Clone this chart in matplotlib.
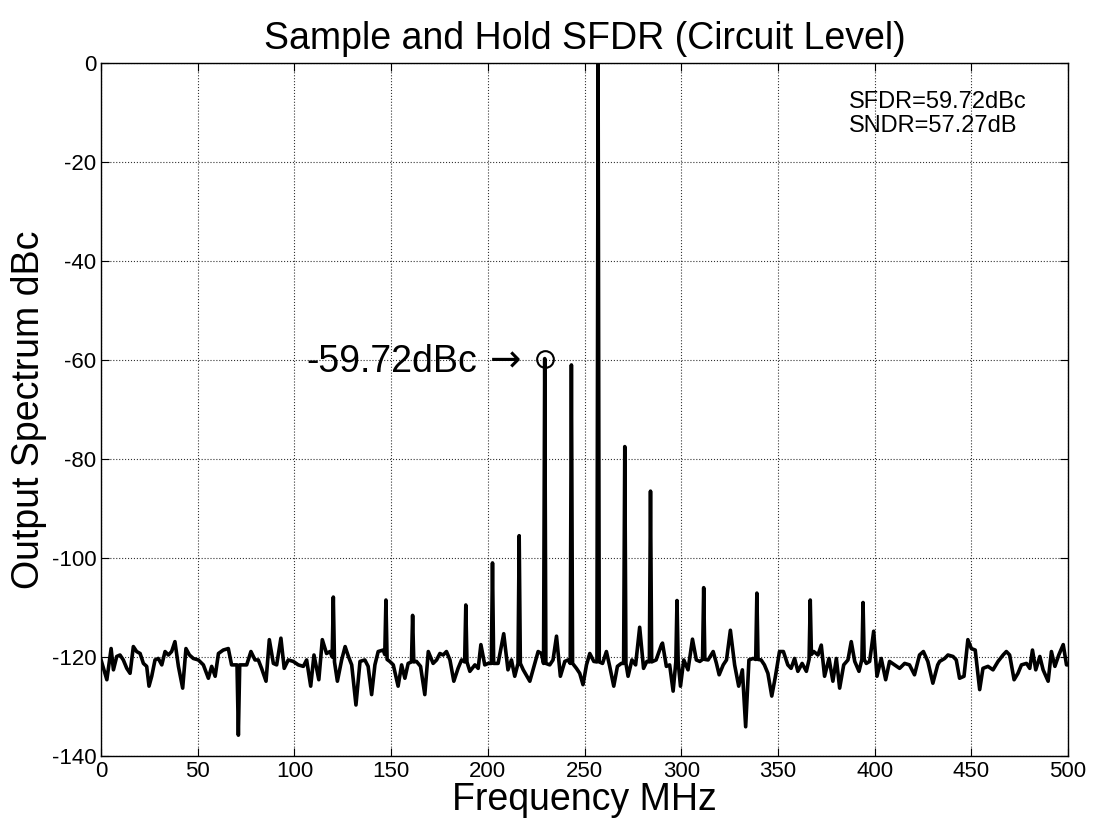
import matplotlib
matplotlib.use("Agg")
import matplotlib.pyplot as plt
import numpy as np

plt.rcParams['font.family'] = ['Liberation Sans', 'DejaVu Sans']
plt.rcParams['axes.unicode_minus'] = False

# spectrum trace (MHz, dBc)
freq_mhz = [
    0.0, 3.0, 5.2, 6.4, 8.1, 9.8, 11.5, 13.3, 15.0, 16.7, 18.4, 20.2, 21.9, 23.6,
    24.8, 26.2, 27.9, 29.6, 31.4, 33.1, 34.8, 36.5, 38.2, 40.0, 42.2, 43.9, 45.7,
    47.7, 50.3, 52.9, 55.5, 57.2, 59.0, 60.7, 63.2, 65.8, 67.5, 69.3, 70.3, 71.0,
    71.7, 72.7, 75.3, 77.5, 79.6, 81.3, 83.0, 85.3, 87.0, 89.1, 90.8, 93.0, 94.7,
    96.8, 99.4, 102.0, 104.6, 106.3, 108.4, 110.1, 112.6, 114.4, 116.6, 118.4,
    119.5, 120.1, 120.7, 122.2, 124.4, 126.2, 127.9, 129.6, 131.8, 133.9, 136.4,
    138.1, 139.9, 141.6, 143.3, 145.9, 146.7, 147.3, 147.9, 149.3, 151.1, 153.6,
    155.4, 157.1, 158.8, 160.5, 161.1, 161.7, 163.1, 165.2, 167.4, 169.2, 171.7,
    173.5, 175.2, 176.9, 178.6, 180.4, 182.4, 184.6, 186.4, 188.0, 188.6, 189.2,
    190.7, 193.3, 195.0, 196.4, 198.4, 200.2, 201.8, 202.4, 203.0, 205.3, 208.2,
    210.4, 212.2, 213.9, 215.6, 216.2, 216.8, 218.3, 221.7, 224.3, 226.0, 227.7,
    228.8, 229.4, 230.0, 232.0, 233.7, 235.5, 237.5, 239.8, 241.5, 242.6, 243.2,
    243.8, 245.8, 247.5, 249.2, 251.0, 252.7, 254.8, 256.4, 257.0, 257.6, 259.3,
    261.3, 263.0, 265.1, 267.0, 269.0, 270.2, 270.8, 271.4, 272.5, 274.5, 276.4,
    278.5, 280.5, 282.2, 283.5, 284.1, 284.7, 287.0, 289.7, 290.3, 292.3, 294.0,
    295.8, 297.2, 297.8, 298.4, 299.6, 301.3, 303.5, 305.8, 307.8, 309.6, 311.0,
    311.6, 312.2, 313.9, 316.5, 318.2, 319.6, 321.7, 323.4, 325.4, 327.6, 329.7,
    331.6, 333.3, 335.0, 337.1, 338.5, 339.1, 339.7, 341.3, 343.0, 344.8, 346.8,
    348.7, 350.8, 352.8, 355.1, 356.8, 358.6, 360.3, 362.5, 364.7, 366.1, 366.7,
    367.3, 368.5, 370.7, 372.4, 374.1, 376.4, 378.4, 380.2, 381.9, 384.0, 386.2,
    387.9, 389.7, 391.9, 393.4, 394.0, 394.6, 395.7, 397.4, 399.5, 401.2, 403.4,
    405.7, 407.7, 410.3, 412.9, 415.5, 418.0, 420.6, 423.2, 425.2, 427.5, 430.1,
    432.6, 433.6, 436.2, 437.9, 440.5, 442.2, 443.9, 446.2, 448.2, 450.0, 452.0,
    454.3, 456.0, 458.6, 461.2, 463.8, 466.4, 468.1, 469.8, 472.1, 474.1, 475.9,
    478.5, 480.2, 481.6, 483.3, 485.4, 487.1, 489.7, 491.4, 493.2, 495.2, 497.5,
    499.2, 500.0,
]
level_db = [
    -120.6, -124.6, -118.3, -122.6, -119.9, -119.6, -120.6, -122.3, -123.3, -117.9,
    -118.9, -119.3, -121.3, -121.9, -125.9, -123.9, -120.6, -120.3, -121.6, -118.9,
    -119.6, -118.9, -116.9, -121.9, -126.3, -118.3, -119.6, -120.3, -120.6, -121.6,
    -124.3, -121.9, -123.9, -119.3, -118.6, -118.3, -121.6, -121.6, -121.6, -135.8,
    -121.6, -121.6, -121.6, -118.9, -120.6, -120.6, -122.3, -124.9, -116.5, -121.3,
    -121.6, -116.2, -122.3, -120.6, -120.9, -121.6, -121.9, -120.6, -125.9, -119.6,
    -124.6, -116.5, -119.3, -118.9, -120.0, -107.9, -121.0, -124.9, -120.6, -117.9,
    -119.9, -121.6, -129.7, -120.9, -120.6, -121.9, -127.6, -121.6, -118.9, -118.6,
    -119.5, -108.5, -120.5, -120.9, -121.6, -125.9, -121.6, -124.3, -121.3, -121.0,
    -111.6, -121.0, -120.9, -121.9, -127.6, -118.9, -121.3, -120.6, -119.3, -119.6,
    -118.9, -120.6, -124.9, -122.3, -120.6, -121.0, -109.5, -121.0, -122.9, -121.6,
    -122.3, -117.5, -121.6, -121.3, -121.3, -101.0, -121.3, -121.3, -115.3, -122.6,
    -120.6, -123.9, -121.3, -95.5, -121.3, -122.6, -124.9, -121.3, -118.9, -119.3,
    -121.3, -59.72, -121.3, -121.6, -120.6, -115.8, -123.9, -120.9, -120.6, -121.3,
    -61.0, -121.3, -122.3, -123.3, -125.6, -121.6, -119.3, -120.9, -121.0, 0.0,
    -121.0, -121.3, -118.9, -121.9, -125.9, -121.9, -121.3, -121.3, -77.5, -121.3,
    -123.9, -120.6, -121.6, -114.0, -122.3, -120.9, -121.0, -86.5, -121.0, -120.6,
    -117.6, -117.2, -121.9, -121.6, -126.9, -121.0, -108.6, -121.0, -125.9, -120.6,
    -122.6, -116.4, -120.6, -120.9, -120.5, -106.0, -120.5, -120.6, -118.9, -121.3,
    -123.6, -121.6, -120.6, -114.6, -121.6, -125.9, -122.6, -134.1, -120.6, -120.3,
    -120.5, -107.1, -120.5, -120.6, -121.6, -123.3, -127.9, -123.9, -118.9, -118.9,
    -121.6, -122.3, -120.3, -122.9, -121.3, -122.9, -120.5, -108.5, -119.5, -118.9,
    -119.6, -117.6, -123.9, -120.3, -124.9, -120.3, -126.3, -121.6, -120.6, -116.9,
    -120.9, -122.9, -120.5, -109.0, -120.5, -121.3, -120.9, -114.8, -123.9, -120.3,
    -124.6, -120.9, -121.6, -122.3, -121.3, -121.6, -123.6, -119.6, -118.9, -120.9,
    -125.3, -121.6, -120.9, -120.3, -119.6, -119.9, -120.6, -124.3, -123.9, -116.5,
    -118.3, -118.6, -126.6, -122.3, -121.9, -122.6, -120.9, -119.6, -118.9, -119.6,
    -124.6, -123.3, -121.6, -121.3, -122.3, -118.6, -122.6, -119.9, -122.6, -124.9,
    -118.9, -121.9, -119.6, -117.5, -121.6, -121.6,
]

spur_freq = 229.4
spur_db = -59.72
sfdr_text = "SFDR=59.72dBc"
sndr_text = "SNDR=57.27dB"

fig = plt.figure(figsize=(10.96, 8.27), dpi=100)
ax = fig.add_axes([0.0922, 0.0859, 0.8823, 0.8379])

ax.plot(freq_mhz, level_db, color='black', linewidth=2.6)
ax.plot([spur_freq], [spur_db], 'o', markersize=12, markerfacecolor='none',
        markeredgecolor='black', markeredgewidth=1.5)

ax.text(106.3, -62.4, "-59.72dBc", fontsize=27, ha='left', va='baseline')
ax.text(201.0, -62.4, "\u2192", fontsize=27, ha='left', va='baseline',
        family='DejaVu Sans')
ax.text(386.6, -9.0, sfdr_text, fontsize=17, ha='left', va='baseline')
ax.text(386.6, -13.9, sndr_text, fontsize=17, ha='left', va='baseline')

ax.set_xlim(0, 500)
ax.set_ylim(-140, 0)
ax.set_xticks(np.arange(0, 501, 50))
ax.set_yticks(np.arange(-140, 1, 20))
ax.grid(True, linestyle=':', color='black', linewidth=0.8, alpha=0.8)
ax.tick_params(direction='in', top=True, right=True, labelsize=16, length=6)
for s in ax.spines.values():
    s.set_linewidth(1.0)

ax.set_title("Sample and Hold SFDR (Circuit Level)", fontsize=27, pad=10)
ax.set_xlabel("Frequency MHz", fontsize=27, labelpad=0)
ax.set_ylabel("Output Spectrum dBc", fontsize=27)
ax.yaxis.set_label_coords(-0.056, 0.5)

fig.savefig("out.png", dpi=100)
